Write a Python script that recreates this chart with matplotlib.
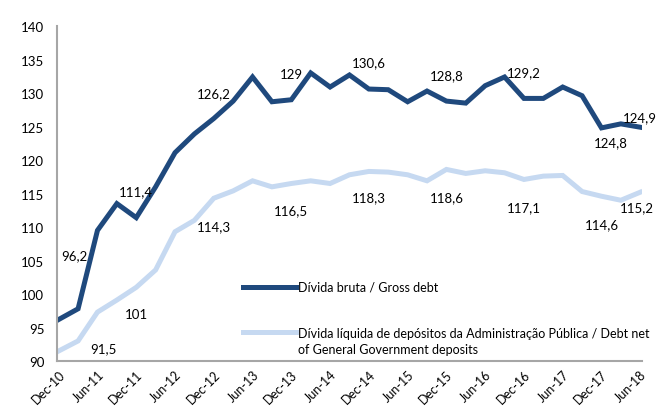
import numpy as np
import matplotlib
matplotlib.use('Agg')
import matplotlib.pyplot as plt

# quarterly, Dec-10 .. Jun-18
quarters = ['Dec-10', 'Mar-11', 'Jun-11', 'Sep-11', 'Dec-11', 'Mar-12', 'Jun-12', 'Sep-12',
            'Dec-12', 'Mar-13', 'Jun-13', 'Sep-13', 'Dec-13', 'Mar-14', 'Jun-14', 'Sep-14',
            'Dec-14', 'Mar-15', 'Jun-15', 'Sep-15', 'Dec-15', 'Mar-16', 'Jun-16', 'Sep-16',
            'Dec-16', 'Mar-17', 'Jun-17', 'Sep-17', 'Dec-17', 'Mar-18', 'Jun-18']

gross_debt = [96.2, 97.8, 109.5, 113.5, 111.4, 116.0, 121.1, 123.9,
              126.2, 128.8, 132.4, 128.7, 129.0, 133.0, 130.9, 132.7,
              130.6, 130.5, 128.7, 130.3, 128.8, 128.5, 131.1, 132.4,
              129.2, 129.2, 130.9, 129.6, 124.8, 125.4, 124.9]

net_debt = [91.5, 93.0, 97.3, 99.1, 101.0, 103.6, 109.3, 111.0,
            114.3, 115.4, 116.9, 116.0, 116.5, 116.9, 116.5, 117.8,
            118.3, 118.2, 117.8, 116.9, 118.6, 118.0, 118.4, 118.1,
            117.1, 117.6, 117.7, 115.3, 114.6, 114.0, 115.2]

# data labels: (index, text, x offset, y position)
gross_labels = [(0, '96,2', 0.8, 105.8), (4, '111,4', 0.0, 115.3), (8, '126,2', 0.0, 130.0),
                (12, '129', 0.0, 132.9), (16, '130,6', 0.0, 134.6), (20, '128,8', 0.0, 132.7),
                (24, '129,2', 0.0, 133.1), (28, '124,8', 0.5, 122.7), (30, '124,9', 0.0, 126.4)]
net_labels = [(0, '91,5', 2.3, 91.9), (4, '101', 0.0, 97.0), (8, '114,3', 0.0, 110.2),
              (12, '116,5', 0.0, 112.5), (16, '118,3', 0.0, 114.4), (20, '118,6', 0.0, 114.5),
              (24, '117,1', 0.0, 112.9), (28, '114,6', 0.0, 110.5), (30, '115,2', -0.2, 112.9)]

gross_name = 'Dívida bruta / Gross debt'
net_name = ['Dívida líquida de depósitos da Administração Pública / Debt net',
            'of General Government deposits']

dark = '#1F497D'
light = '#C6D9F1'

plt.rcParams['font.family'] = ['Lato', 'DejaVu Sans']

fig = plt.figure(figsize=(6.6, 4.1), dpi=100)
ax = fig.add_axes([0.086, 0.117, 0.887, 0.817])

x = np.arange(len(quarters))
ax.plot(x, gross_debt, color=dark, lw=3.6, solid_joinstyle='miter', label=gross_name)
ax.plot(x, net_debt, color=light, lw=3.6, solid_joinstyle='miter', label=net_name[0])

for i, txt, dx, y in gross_labels + net_labels:
    ax.text(i + dx, y, txt, ha='center', va='center', fontsize=9.5, color='black')

ax.set_ylim(90, 140)
ax.set_yticks(range(90, 141, 5))
ax.set_xlim(-0.1, 30.1)
ax.set_xticks(x[::2])
ax.set_xticklabels(quarters[::2], rotation=45, ha='right', rotation_mode='anchor')
ax.tick_params(axis='both', length=0, labelsize=9.5)
ax.tick_params(axis='x', labelsize=9, pad=5)
ax.tick_params(axis='y', pad=9)

for s in ['top', 'right']:
    ax.spines[s].set_visible(False)
for s in ['left', 'bottom']:
    ax.spines[s].set_color('#A6A6A6')
    ax.spines[s].set_linewidth(1.5)

leg = ax.legend(loc='upper left', bbox_to_anchor=(0.31, 0.254), frameon=False,
                fontsize=9, handlelength=4.2, handletextpad=0.2, labelspacing=2.7,
                borderaxespad=0)

# second line of the net debt label sits under the legend text
fig.canvas.draw()
bb = leg.get_texts()[1].get_window_extent()
fig.text(bb.x0 / fig.dpi / 6.6, (bb.y0 - 16) / fig.dpi / 4.1, net_name[1],
         fontsize=9, ha='left', va='bottom')

fig.savefig('out.png', dpi=100)
